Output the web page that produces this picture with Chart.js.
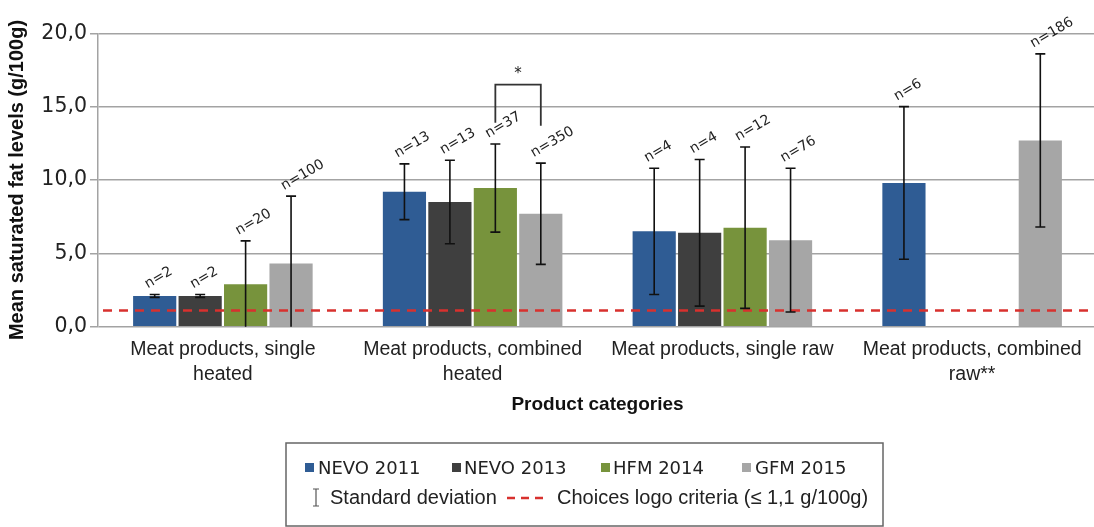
<!DOCTYPE html>
<html>
<head>
<meta charset="utf-8">
<script src="https://cdn.jsdelivr.net/npm/chart.js@4.4.1/dist/chart.umd.min.js"></script>
<style>
  html, body { margin: 0; padding: 0; background: #fff; overflow: hidden; width: 1094px; height: 527px; }
  canvas { display: block; }
</style>
</head>
<body>
<canvas id="chart" width="1097" height="527" style="width:1097px;height:527px"></canvas>
<script>
// Product categories on the x axis (multi-line labels)
const categories = [
  ["Meat products, single", "heated"],
  ["Meat products, combined", "heated"],
  "Meat products, single raw",
  ["Meat products, combined", "raw**"]
];

const seriesNames = ["NEVO 2011", "NEVO 2013", "HFM 2014", "GFM 2015"];

// Mean saturated fat (g/100g)
const nevo2011 = [2.1, 9.2, 6.5, 9.8];
const nevo2013 = [2.1, 8.5, 6.4, null];
const hfm2014  = [2.9, 9.45, 6.75, null];
const gfm2015  = [4.3, 7.7, 5.9, 12.7];

// Standard deviations
const sdNevo2011 = [0.1, 1.9, 4.3, 5.2];
const sdNevo2013 = [0.1, 2.85, 5.0, null];
const sdHfm2014  = [2.95, 3.0, 5.5, null];
const sdGfm2015  = [4.6, 3.45, 4.9, 5.9];

// Number of products per bar
const nNevo2011 = [2, 13, 4, 6];
const nNevo2013 = [2, 13, 4, null];
const nHfm2014  = [20, 37, 12, null];
const nGfm2015  = [100, 350, 76, 186];

const yTickValues = [0, 5, 10, 15, 20];
const yTickLabels = ["0,0", "5,0", "10,0", "15,0", "20,0"];

// Choices logo criterion, g/100g
const criterionValue = 1.1;

const colors = ["#2f5c94", "#3f3f3f", "#77933c", "#a6a6a6"];

const overlay = {
  id: 'overlay',
  afterDatasetsDraw(chart) {
    const ctx = chart.ctx;
    const y = chart.scales.y;
    const area = chart.chartArea;

    // dashed criterion line
    ctx.save();
    ctx.strokeStyle = '#d8312e';
    ctx.lineWidth = 2.5;
    ctx.setLineDash([9, 7]);
    const yc = y.getPixelForValue(criterionValue);
    ctx.beginPath();
    ctx.moveTo(area.left + 5, yc);
    ctx.lineTo(area.right, yc);
    ctx.stroke();
    ctx.restore();

    // error bars and sample-size labels
    chart.data.datasets.forEach((ds, i) => {
      const meta = chart.getDatasetMeta(i);
      meta.data.forEach((bar, j) => {
        const v = ds.data[j];
        if (v == null) return;
        const sd = ds.sd[j];
        const top = y.getPixelForValue(v + sd);
        const low = v - sd;
        const bot = y.getPixelForValue(Math.max(0, low));
        ctx.save();
        ctx.strokeStyle = '#111';
        ctx.lineWidth = 1.6;
        ctx.beginPath();
        ctx.moveTo(bar.x, top); ctx.lineTo(bar.x, bot);
        ctx.moveTo(bar.x - 5, top); ctx.lineTo(bar.x + 5, top);
        if (low > 0) { ctx.moveTo(bar.x - 5, bot); ctx.lineTo(bar.x + 5, bot); }
        ctx.stroke();

        ctx.fillStyle = '#222';
        ctx.font = '14px "DejaVu Sans"';
        ctx.textAlign = 'left';
        ctx.textBaseline = 'alphabetic';
        ctx.translate(bar.x - 7, top - 6);
        ctx.rotate(-Math.PI / 6);
        ctx.fillText('n=' + ds.n[j], 0, 0);
        ctx.restore();
      });
    });

    // significance bracket between HFM 2014 and GFM 2015, combined heated
    const bA = chart.getDatasetMeta(2).data[1];
    const bB = chart.getDatasetMeta(3).data[1];
    const yTop = y.getPixelForValue(16.5);
    const yLegA = y.getPixelForValue(13.9);
    const yLegB = y.getPixelForValue(13.7);
    ctx.save();
    ctx.strokeStyle = '#333';
    ctx.lineWidth = 1.8;
    ctx.beginPath();
    ctx.moveTo(bA.x, yLegA); ctx.lineTo(bA.x, yTop); ctx.lineTo(bB.x, yTop); ctx.lineTo(bB.x, yLegB);
    ctx.stroke();
    ctx.fillStyle = '#222';
    ctx.font = '15px "DejaVu Sans"';
    ctx.textAlign = 'center';
    ctx.textBaseline = 'middle';
    ctx.fillText('*', (bA.x + bB.x) / 2, y.getPixelForValue(17.2));
    ctx.restore();
  },
  afterDraw(chart) {
    // legend box below the axis title
    const ctx = chart.ctx;
    ctx.save();
    ctx.strokeStyle = '#666';
    ctx.lineWidth = 1.5;
    ctx.strokeRect(286, 443, 597, 83);

    const row1 = [
      { sq: 305, tx: 318 },
      { sq: 452, tx: 464 },
      { sq: 601, tx: 613 },
      { sq: 742, tx: 755 }
    ];
    ctx.font = '18px "DejaVu Sans"';
    ctx.textBaseline = 'alphabetic';
    ctx.textAlign = 'left';
    row1.forEach((p, i) => {
      ctx.fillStyle = colors[i];
      ctx.fillRect(p.sq, 463, 9, 9);
      ctx.fillStyle = '#222';
      ctx.fillText(seriesNames[i], p.tx, 474);
    });

    // standard deviation symbol
    ctx.strokeStyle = '#555';
    ctx.lineWidth = 1.2;
    ctx.beginPath();
    ctx.moveTo(316, 489); ctx.lineTo(316, 506);
    ctx.moveTo(313, 489); ctx.lineTo(319, 489);
    ctx.moveTo(313, 506); ctx.lineTo(319, 506);
    ctx.stroke();

    ctx.font = '20px "Liberation Sans"';
    ctx.fillStyle = '#222';
    ctx.fillText('Standard deviation', 330, 504);

    ctx.strokeStyle = '#d8312e';
    ctx.lineWidth = 2.5;
    ctx.setLineDash([8, 6]);
    ctx.beginPath();
    ctx.moveTo(507, 498); ctx.lineTo(543, 498);
    ctx.stroke();
    ctx.setLineDash([]);

    ctx.fillText('Choices logo criteria (\u2264 1,1 g/100g)', 557, 504);
    ctx.restore();
  }
};

const seriesValues = [nevo2011, nevo2013, hfm2014, gfm2015];
const seriesSd = [sdNevo2011, sdNevo2013, sdHfm2014, sdGfm2015];
const seriesN = [nNevo2011, nNevo2013, nHfm2014, nGfm2015];

new Chart(document.getElementById('chart'), {
  type: 'bar',
  data: {
    labels: categories,
    datasets: seriesNames.map((name, i) => ({
      label: name,
      data: seriesValues[i],
      sd: seriesSd[i],
      n: seriesN[i],
      backgroundColor: colors[i],
      borderWidth: 0,
      categoryPercentage: 0.728,
      barPercentage: 0.95
    }))
  },
  options: {
    responsive: false,
    animation: false,
    devicePixelRatio: 1,
    layout: { padding: { left: 0, right: 0, top: 33.3, bottom: 107 } },
    plugins: { legend: { display: false }, tooltip: { enabled: false } },
    scales: {
      x: {
        grid: { display: false, drawTicks: false },
        border: { display: false },
        ticks: {
          color: '#222',
          font: { family: 'Liberation Sans', size: 19.5, lineHeight: 1.25 },
          padding: 11,
          maxRotation: 0,
          autoSkip: false
        },
        title: {
          display: true,
          text: 'Product categories',
          color: '#111',
          font: { family: 'Liberation Sans', size: 19, weight: 'bold' },
          padding: { top: 0, bottom: 4 }
        },
        afterFit(s) { s.height = 93.3; }
      },
      y: {
        min: 0,
        max: 20,
        ticks: {
          stepSize: 5,
          color: '#222',
          padding: 3,
          font: { family: 'DejaVu Sans', size: 20.5 },
          callback: (v) => yTickLabels[yTickValues.indexOf(v)]
        },
        grid: { color: '#a3a3a3', lineWidth: 1.5, tickLength: 8 },
        border: { color: '#a3a3a3', width: 1.5 },
        title: {
          display: true,
          text: 'Mean saturated fat levels (g/100g)',
          color: '#111',
          font: { family: 'Liberation Sans', size: 20, weight: 'bold' },
          padding: { top: 5, bottom: 0 }
        },
        afterFit(s) { s.width = 98; }
      }
    }
  },
  plugins: [overlay]
});
</script>
</body>
</html>
